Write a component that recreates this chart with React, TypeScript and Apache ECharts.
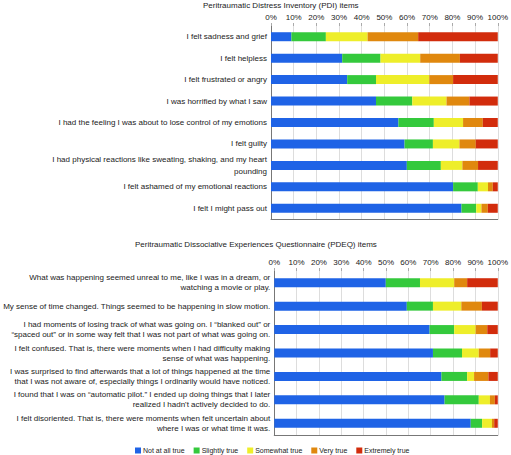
import React, { useEffect, useRef } from "react";
import * as echarts from "echarts";

const seriesNames = ["Not at all true", "Slightly true", "Somewhat true", "Very true", "Extremely true"];
const colors = ["#1f63e6", "#34c93c", "#eeee2a", "#e0880e", "#d22c0c"];

const pdiTitle = "Peritraumatic Distress Inventory (PDI) items";
const pdeqTitle = "Peritraumatic Dissociative Experiences Questionnaire (PDEQ) items";

const pdiItems = [
  "I felt sadness and grief",
  "I felt helpless",
  "I felt frustrated or angry",
  "I was horrified by what I saw",
  "I had the feeling I was about to lose control of my emotions",
  "I felt guilty",
  "I had physical reactions like sweating, shaking, and my heart\npounding",
  "I felt ashamed of my emotional reactions",
  "I felt I might pass out",
];

const pdeqItems = [
  "What was happening seemed unreal to me, like I was in a dream, or\nwatching a movie or play.",
  "My sense of time changed. Things seemed to be happening in slow motion.",
  "I had moments of losing track of what was going on. I \u201cblanked out\u201d or\n\u201cspaced out\u201d or in some way felt that I was not part of what was going on.",
  "I felt confused. That is, there were moments when I had difficulty making\nsense of what was happening.",
  "I was surprised to find afterwards that a lot of things happened at the time\nthat I was not aware of, especially things I ordinarily would have noticed.",
  "I found that I was on \u201cautomatic pilot.\u201d I ended up doing things that I later\nrealized I hadn't actively decided to do.",
  "I felt disoriented. That is, there were moments when felt uncertain about\nwhere I was or what time it was.",
];

// percentages per response level (rows follow items)
const pdiNotAtAll = [9.0, 31.4, 33.6, 46.3, 56.2, 58.9, 59.9, 80.3, 84.0];
const pdiSlightly = [15.2, 16.9, 12.7, 16.0, 15.6, 12.5, 15.0, 10.9, 6.5];
const pdiSomewhat = [18.4, 17.5, 23.5, 15.1, 12.9, 11.7, 9.5, 4.5, 2.3];
const pdiVery = [22.3, 17.5, 10.5, 10.1, 8.7, 7.2, 6.9, 2.1, 2.8];
const pdiExtremely = [35.1, 16.7, 19.7, 12.5, 6.6, 9.7, 8.7, 2.2, 4.4];

const pdeqNotAtAll = [49.9, 59.3, 69.5, 71.0, 74.8, 76.2, 87.9];
const pdeqSlightly = [15.3, 11.7, 11.0, 13.0, 11.5, 15.3, 5.1];
const pdeqSomewhat = [15.3, 12.7, 9.6, 7.5, 3.1, 5.0, 4.4];
const pdeqVery = [5.8, 9.2, 5.2, 5.1, 6.4, 2.2, 1.0];
const pdeqExtremely = [13.7, 7.1, 4.7, 3.4, 4.2, 1.3, 1.6];

const tickValues = [0, 10, 20, 30, 40, 50, 60, 70, 80, 90, 100];

const FONT = "Liberation Sans, Arial, Helvetica, sans-serif";

export default function App() {
  const ref = useRef<HTMLDivElement>(null);
  useEffect(() => {
    if (!ref.current) return;
    const chart = echarts.init(ref.current, undefined, { renderer: "svg" });
    const pdi = [pdiNotAtAll, pdiSlightly, pdiSomewhat, pdiVery, pdiExtremely];
    const pdeq = [pdeqNotAtAll, pdeqSlightly, pdeqSomewhat, pdeqVery, pdeqExtremely];

    const topAxis = (gridIndex: number) => ({
      type: "value",
      gridIndex,
      position: "top",
      min: 0,
      max: 100,
      interval: 10,
      axisLine: { show: false },
      axisTick: { show: true, length: 3, lineStyle: { color: "#aaa" } },
      axisLabel: {
        margin: 5,
        fontSize: 8,
        fontFamily: FONT,
        color: "#222",
        formatter: (v: number) => (tickValues.includes(v) ? v + "%" : ""),
      },
      splitLine: { show: true, lineStyle: { color: "#dddddd", width: 1 } },
    });
    const bottomAxis = (gridIndex: number) => ({
      type: "value",
      gridIndex,
      position: "bottom",
      min: 0,
      max: 100,
      axisLine: { show: true, onZero: false, lineStyle: { color: "#777" } },
      axisTick: { show: false },
      axisLabel: { show: false },
      splitLine: { show: false },
    });
    const catAxis = (gridIndex: number, data: string[], lh: number) => ({
      type: "category",
      gridIndex,
      data,
      inverse: true,
      axisLine: { show: true, lineStyle: { color: "#777" } },
      axisTick: { show: false },
      axisLabel: {
        margin: 4,
        fontSize: 8,
        lineHeight: lh,
        fontFamily: FONT,
        color: "#222",
        align: "right",
      },
    });

    const series: any[] = [];
    pdi.forEach((d, i) => {
      series.push({
        name: seriesNames[i],
        type: "bar",
        stack: "pdi",
        xAxisIndex: 0,
        yAxisIndex: 0,
        barWidth: 9,
        data: d,
        itemStyle: { color: colors[i] },
      });
    });
    pdeq.forEach((d, i) => {
      series.push({
        name: seriesNames[i],
        type: "bar",
        stack: "pdeq",
        xAxisIndex: 2,
        yAxisIndex: 1,
        barWidth: 9,
        data: d,
        itemStyle: { color: colors[i] },
      });
    });

    chart.setOption({
      animation: false,
      backgroundColor: "#ffffff",
      textStyle: { fontFamily: FONT },
      title: [
        {
          text: pdiTitle,
          left: 203,
          top: 1,
          padding: 0,
          textStyle: { fontSize: 8, fontWeight: "normal", color: "#222", fontFamily: FONT },
        },
        {
          text: pdeqTitle,
          left: 135,
          top: 240,
          padding: 0,
          textStyle: { fontSize: 8, fontWeight: "normal", color: "#222", fontFamily: FONT },
        },
      ],
      legend: {
        data: seriesNames,
        left: 135,
        top: 447,
        padding: 0,
        itemWidth: 6,
        itemHeight: 6,
        itemGap: 9,
        icon: "rect",
        textStyle: { fontSize: 7, color: "#222", fontFamily: FONT, padding: [0, 0, 0, -3] },
      },
      grid: [
        { left: 271, right: 13, top: 26, height: 193 },
        { left: 271, right: 12, top: 271, height: 164 },
      ],
      xAxis: [topAxis(0), bottomAxis(0), topAxis(1), bottomAxis(1)],
      yAxis: [catAxis(0, pdiItems, 11.5), catAxis(1, pdeqItems, 10)],
      series,
    });
    return () => chart.dispose();
  }, []);
  return (
    <div
      ref={ref}
      style={{ position: "fixed", left: 0, top: 0, width: 511, height: 455 }}
    />
  );
}
